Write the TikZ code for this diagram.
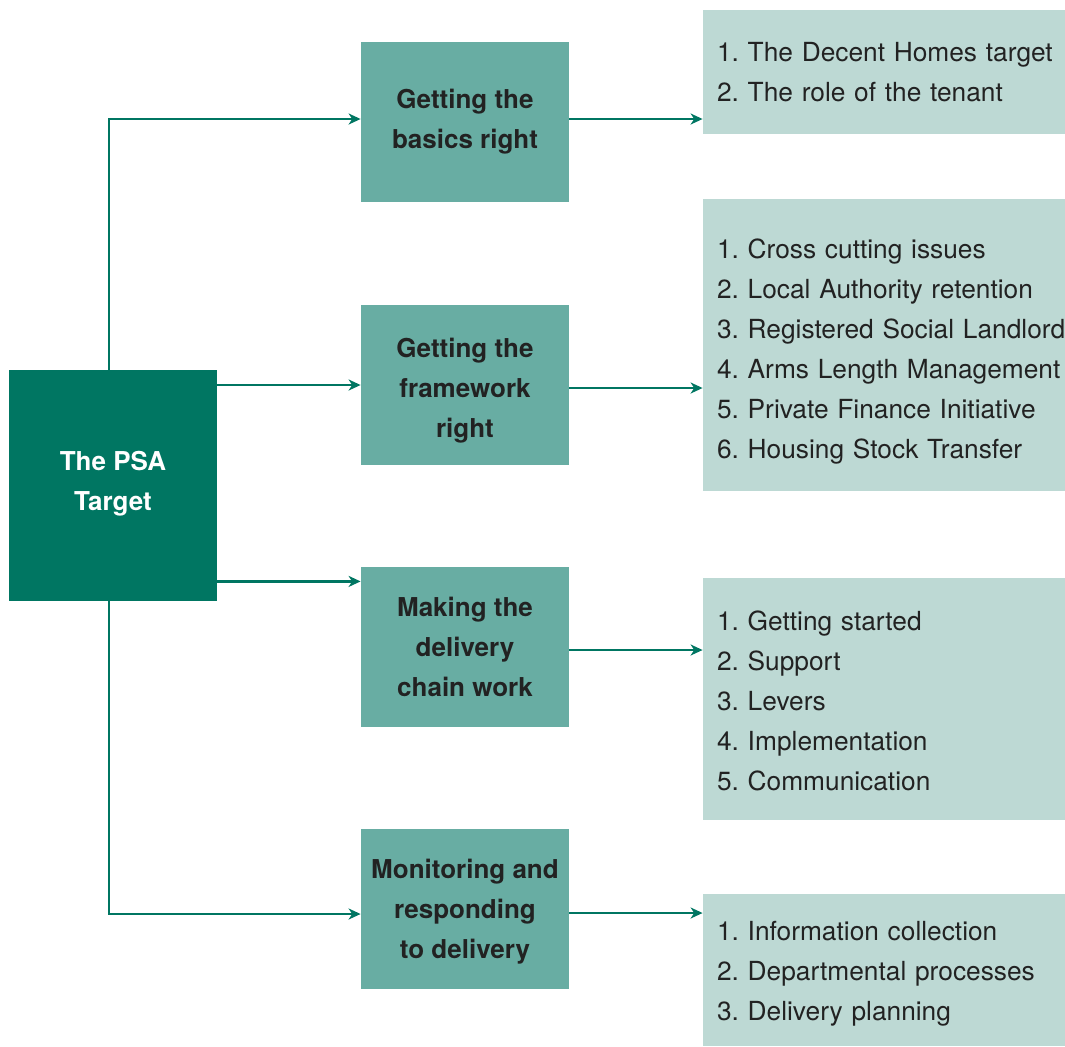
\documentclass[tikz,border=0pt]{standalone}
\usepackage{fontspec}
\setmainfont{TeX Gyre Heros}
\usepackage{tikz}
\usetikzlibrary{arrows.meta}
\definecolor{psadark}{HTML}{007662}
\definecolor{psamid}{HTML}{68ADA3}
\definecolor{psalight}{HTML}{BDD9D4}
\definecolor{psatext}{HTML}{222222}
\tikzset{
  targetbox/.style={fill=psadark, draw=none, text=white, font=\fontsize{13}{20}\selectfont\bfseries,
    align=center, minimum width=104pt, minimum height=115.5pt, inner sep=0pt},
  stagebox/.style={fill=psamid, draw=none, text=psatext, font=\fontsize{13}{20}\selectfont\bfseries,
    align=center, minimum width=104pt, minimum height=80pt, inner sep=0pt},
  listbox/.style={fill=psalight, draw=none, text=psatext, font=\fontsize{13.15}{20}\selectfont\frenchspacing,
    align=left, text width=167pt, minimum width=181pt, inner xsep=7pt, inner ysep=0pt},
  link/.style={draw=psadark, line width=1.2pt, -{Stealth[length=6pt,width=5.5pt,inset=1.8pt]}}
}
\newcommand{\stage}[3]{\node[stagebox] (#1) at (465, #2) {#3};}
\newcommand{\entry}[1]{\mbox{#1}}

\begin{document}
\begin{tikzpicture}[x=0.5pt, y=-0.5pt]
        \useasboundingbox (0,0) rectangle (1065,1046);

        % left
        \node[targetbox] (psa) at (113, 485.5) {The PSA\\Target\rule[-5pt]{0pt}{5pt}};

        % middle column
        \stage{basics}{122}{Getting the\\basics right}
        \stage{frame}{385}{\rule{0pt}{15pt}Getting the\\framework\\right}
        \stage{chain}{647}{Making the\\delivery\\chain work}
        \stage{monitor}{909}{\rule{0pt}{12pt}Monitoring and\\responding\\to delivery}

        % right column
        \node[listbox, minimum height=62pt] (lbasics) at (884, 72)
          {\entry{1. The Decent Homes target}\\\entry{2. The role of the tenant}};
        \node[listbox, minimum height=146pt] (lframe) at (884, 345)
          {\rule{0pt}{16pt}\entry{1. Cross cutting issues}\\\entry{2. Local Authority retention}\\
           \entry{3. Registered Social Landlord}\\\entry{4. Arms Length Management}\\
           \entry{5. Private Finance Initiative}\\\entry{6. Housing Stock Transfer}};
        \node[listbox, minimum height=121pt] (lchain) at (884, 699)
          {\rule{0pt}{12pt}\entry{1. Getting started}\\\entry{2. Support}\\\entry{3. Levers}\\
           \entry{4. Implementation}\\\entry{5. Communication}};
        \node[listbox, minimum height=76pt] (lmonitor) at (884, 970)
          {\rule{0pt}{13pt}\entry{1. Information collection}\\\entry{2. Departmental processes}\\
           \entry{3. Delivery planning}};

        % links
        \draw[link] ([xshift=-2pt]psa.north) |- ([yshift=1.5pt]basics.west);
        \draw[link] ([xshift=-2pt]psa.south) |- ([yshift=-2.5pt]monitor.west);
        \draw[link] (psa.east |- frame.west) -- (frame.west);
        \draw[link] ([yshift=10pt]psa.south east) -- ([yshift=10pt]psa.south east -| chain.west);

        \draw[link] ([yshift=1.5pt]basics.east) -- ([yshift=1.5pt]basics.east -| lbasics.west);
        \draw[link] ([yshift=-1.5pt]frame.east) -- ([yshift=-1.5pt]frame.east -| lframe.west);
        \draw[link] ([yshift=-1.5pt]chain.east) -- ([yshift=-1.5pt]chain.east -| lchain.west);
        \draw[link] ([yshift=-2pt]monitor.east) -- ([yshift=-2pt]monitor.east -| lmonitor.west);

    \end{tikzpicture}
\end{document}
